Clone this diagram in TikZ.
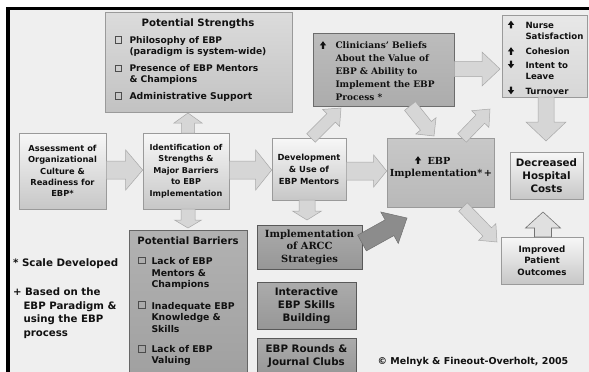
\documentclass[tikz,border=0pt]{standalone}
\usepackage{fontspec}
\setmainfont{DejaVu Sans}
\newfontfamily\dserif{DejaVu Serif}
\usetikzlibrary{calc,shadows}
\definecolor{bgc}{HTML}{EFEFEF}
\definecolor{edgec}{HTML}{9A9A9A}
\definecolor{strc}{HTML}{D3D3D3}
\definecolor{barc}{HTML}{A9A9A9}
\definecolor{clinc}{HTML}{B5B5B5}
\definecolor{ebpc}{HTML}{C2C2C2}
\definecolor{nursec}{HTML}{E2E2E2}
\definecolor{darkc}{HTML}{A4A4A4}
\definecolor{arrc}{HTML}{D6D6D6}
\definecolor{arredge}{HTML}{A8A8A8}
\definecolor{bigarr}{HTML}{8C8C8C}
\definecolor{textc}{HTML}{111111}
\newcommand\fsz[2]{\fontsize{#1}{#2}\selectfont\bfseries}
\newcommand\blockarr[6]{%
  \coordinate (ba-h) at ($(#3)!#6!(#2)$);
  \path[#1] ($(#2)!#4!90:(#3)$) -- ($(ba-h)!#4!-90:(#2)$) -- ($(ba-h)!#5!-90:(#2)$) -- (#3) -- ($(ba-h)!#5!90:(#2)$) -- ($(ba-h)!#4!90:(#2)$) -- ($(#2)!#4!-90:(#3)$) -- cycle;
}
\tikzset{
  smallup/.pic={\fill[textc] (-1.1,3.8) -- (-1.1,0.3) -- (-3.1,0.3) -- (0,-3.8) -- (3.1,0.3) -- (1.1,0.3) -- (1.1,3.8) -- cycle;},
  smalldown/.pic={\fill[textc] (-1.1,-3.8) -- (-1.1,-0.3) -- (-3.1,-0.3) -- (0,3.8) -- (3.1,-0.3) -- (1.1,-0.3) -- (1.1,-3.8) -- cycle;},
}
\begin{document}
\begin{tikzpicture}[x=1pt,y=-1pt,
  every node/.style={text=textc},
  box/.style={draw=edgec, line width=0.6pt, align=center, inner sep=1pt,
    drop shadow={shadow xshift=1.3pt,shadow yshift=-1.3pt,opacity=0.3}},
  lightbox/.style={box, top color=white!97!black, bottom color=white!78!black},
  strbox/.style={box, top color=strc!80!white, bottom color=strc!92!black},
  barbox/.style={box, draw=gray!80!black, top color=barc!90!white, bottom color=barc!95!black},
  clinbox/.style={box, draw=gray!85!black, top color=clinc!90!white, bottom color=clinc!95!black},
  ebpbox/.style={box, top color=ebpc!90!white, bottom color=ebpc!95!black},
  nursebox/.style={box, top color=nursec!80!white, bottom color=nursec!95!black},
  darkbox/.style={box, draw=gray!70!black, top color=darkc!92!white, bottom color=darkc!92!black},
  chk/.style={draw=textc!75, line width=0.6pt, minimum size=6.5pt, inner sep=0pt},
  arr/.style={fill=arrc, draw=arredge, line width=0.5pt},
  oarr/.style={fill=white!88!black, draw=gray!90!black, line width=0.6pt},
  darr/.style={fill=bigarr, draw=bigarr!80!black, line width=0.5pt},
]
\useasboundingbox (0,0) rectangle (589,372);
\fill[white] (0,0) rectangle (589,372);
\fill[bgc] (9,10) rectangle (589,372);
\fill[black] (6,6.5) rectangle (589,10);
\fill[black] (6,6.5) rectangle (9.5,372);

% ---------- boxes ----------
\node[strbox, minimum width=187pt, minimum height=100pt] (str) at (198.5,62) {};
\node[font=\fsz{10.2}{12}] (strT) at (198,24) {Potential Strengths};
\node[chk] (sc1) at (118.5,40) {};
\node[chk] (sc2) at (118.5,68.5) {};
\node[chk] (sc3) at (118.5,96) {};
\node[font=\fsz{9.1}{11.6}, anchor=west, align=left] (s1) at (126,46.5) {Philosophy of EBP\\(paradigm is system-wide)};
\node[font=\fsz{9.1}{11.6}, anchor=west, align=left] (s2) at (126,74.5) {Presence of EBP Mentors\\\& Champions};
\node[font=\fsz{9.3}{11.6}, anchor=west, align=left] (s3) at (126,96.5) {Administrative Support};

\node[lightbox, minimum width=87pt, minimum height=76pt, font=\fsz{8.3}{11.3}] (assess) at (62.5,171) {Assessment of\\Organizational\\Culture \&\\Readiness for\\EBP*};
\node[lightbox, minimum width=86pt, minimum height=76pt, font=\fsz{8.1}{11.4}] (ident) at (186,171) {Identification of\\Strengths \&\\Major Barriers\\to EBP\\Implementation};
\node[lightbox, minimum width=74pt, minimum height=62pt, font=\fsz{8.4}{12}] (dev) at (309,169) {Development\\\& Use of\\EBP Mentors};

\node[clinbox, minimum width=141pt, minimum height=73pt] (clin) at (383.5,69.5) {};
\pic at (323,45) {smallup};
\node[font=\dserif\fsz{9}{13}, anchor=west, align=left] (clinT) at (332,71.5) {Clinicians’ Beliefs\\About the Value of\\EBP \& Ability to\\Implement the EBP\\Process *};

\node[ebpbox, minimum width=107pt, minimum height=69pt] (ebp) at (440.5,172.5) {};
\pic at (418,160) {smallup};
\node[font=\dserif\fsz{9.7}{13}, anchor=west] (ebpT1) at (424,160.5) {EBP};
\node[font=\dserif\fsz{9.7}{13}] (ebpT2) at (441,173.5) {Implementation*\,+};

\node[nursebox, minimum width=85pt, minimum height=82pt] (nurse) at (544.5,56) {};
\pic at (511,24.5) {smallup};
\pic at (511,51) {smallup};
\pic at (511,64.5) {smalldown};
\pic at (511,90.5) {smalldown};
\node[font=\fsz{8.6}{11}, anchor=west, align=left] (n1) at (522,31) {Nurse\\Satisfaction};
\node[font=\fsz{8.6}{11}, anchor=west] (n2) at (522,51.5) {Cohesion};
\node[font=\fsz{8.6}{11}, anchor=west, align=left] (n3) at (522,71) {Intent to\\Leave};
\node[font=\fsz{8.6}{11}, anchor=west] (n4) at (522,91.5) {Turnover};

\node[lightbox, minimum width=73pt, minimum height=47pt, font=\fsz{10.3}{13}] (cost) at (546.5,175.5) {Decreased\\Hospital\\Costs};
\node[lightbox, minimum width=82pt, minimum height=47pt, font=\fsz{8.7}{11.5}] (outc) at (542,260.5) {Improved\\Patient\\Outcomes};

\node[darkbox, minimum width=105pt, minimum height=44pt, font=\dserif\fsz{9.9}{12.5}] (arcc) at (309.5,247) {Implementation\\of ARCC\\Strategies};
\node[darkbox, minimum width=99pt, minimum height=47pt, font=\fsz{10.3}{13}] (inter) at (306.5,305.5) {Interactive\\EBP Skills\\Building};
\node[darkbox, minimum width=99pt, minimum height=37pt, font=\fsz{10.3}{13}] (rounds) at (306.5,356.5) {EBP Rounds \&\\Journal Clubs};

\node[barbox, minimum width=118pt, minimum height=146pt] (bar) at (188,303) {};
\node[font=\fsz{10.1}{12}] (barT) at (188,240.5) {Potential Barriers};
\node[chk] (bc1) at (142,260.5) {};
\node[chk] (bc2) at (142,305) {};
\node[chk] (bc3) at (142,349) {};
\node[font=\fsz{9.3}{11.8}, anchor=west, align=left] (b1) at (148,273.5) {Lack of EBP\\Mentors \&\\Champions};
\node[font=\fsz{9.3}{11.8}, anchor=west, align=left] (b2) at (148,317.5) {Inadequate EBP\\Knowledge \&\\Skills};
\node[font=\fsz{9.3}{11.8}, anchor=west, align=left] (b3) at (148,355.5) {Lack of EBP\\Valuing};

% ---------- notes ----------
\node[font=\fsz{10.3}{13.5}, anchor=west] (note1) at (9.5,263.5) {* Scale Developed};
\node[font=\fsz{10.2}{13.6}, anchor=west, align=left] (note2) at (9.5,313) {+ Based on the\\\hspace*{10.5pt}EBP Paradigm \&\\\hspace*{10.5pt}using the EBP\\\hspace*{10.5pt}process};
\node[font=\fsz{9.5}{12}] (copy) at (473,362) {© Melnyk \& Fineout-Overholt, 2005};

% ---------- block arrows ----------
\coordinate (p1a) at (assess.east |- 0,170);
\coordinate (p1b) at (ident.west |- 0,170);
\blockarr{arr}{p1a}{p1b}{9pt}{20pt}{17pt}
\coordinate (p2a) at (ident.east |- 0,170);
\coordinate (p2b) at (dev.west |- 0,170);
\blockarr{arr}{p2a}{p2b}{9pt}{20pt}{16pt}
\coordinate (p3a) at (dev.east |- 0,171);
\coordinate (p3b) at (ebp.west |- 0,171);
\blockarr{arr}{p3a}{p3b}{9pt}{16pt}{13pt}
\coordinate (p4a) at (188,133);
\coordinate (p4b) at (188,113);
\blockarr{arr}{p4a}{p4b}{6.5pt}{14pt}{10pt}
\coordinate (p5a) at (188,209);
\coordinate (p5b) at (188,228);
\blockarr{arr}{p5a}{p5b}{7pt}{13.5pt}{8pt}
\coordinate (p6a) at (307,200);
\coordinate (p6b) at (307,220);
\blockarr{arr}{p6a}{p6b}{8pt}{14.5pt}{9pt}
\coordinate (p7a) at (311,138);
\coordinate (p7b) at (341,108);
\blockarr{arr}{p7a}{p7b}{6pt}{12pt}{14pt}
\coordinate (p8a) at (410,106);
\coordinate (p8b) at (434,136);
\blockarr{arr}{p8a}{p8b}{7pt}{13pt}{13pt}
\coordinate (p9a) at (462,138);
\coordinate (p9b) at (490,109);
\blockarr{arr}{p9a}{p9b}{6pt}{12pt}{14pt}
\coordinate (p10a) at (clin.east |- 0,69);
\coordinate (p10b) at (500,69);
\blockarr{arr}{p10a}{p10b}{7.5pt}{17pt}{18pt}
\coordinate (p11a) at (546,97);
\coordinate (p11b) at (546,141);
\blockarr{arr}{p11a}{p11b}{8pt}{20pt}{19pt}
\coordinate (p12a) at (463,207);
\coordinate (p12b) at (497,242);
\blockarr{arr}{p12a}{p12b}{6pt}{12pt}{14pt}
\coordinate (p13a) at (543,237);
\coordinate (p13b) at (543,212);
\blockarr{oarr}{p13a}{p13b}{8.5pt}{17.5pt}{16pt}
\coordinate (p14a) at (362,243);
\coordinate (p14b) at (407,218);
\blockarr{darr}{p14a}{p14b}{9pt}{18pt}{20pt}
\end{tikzpicture}
\end{document}
